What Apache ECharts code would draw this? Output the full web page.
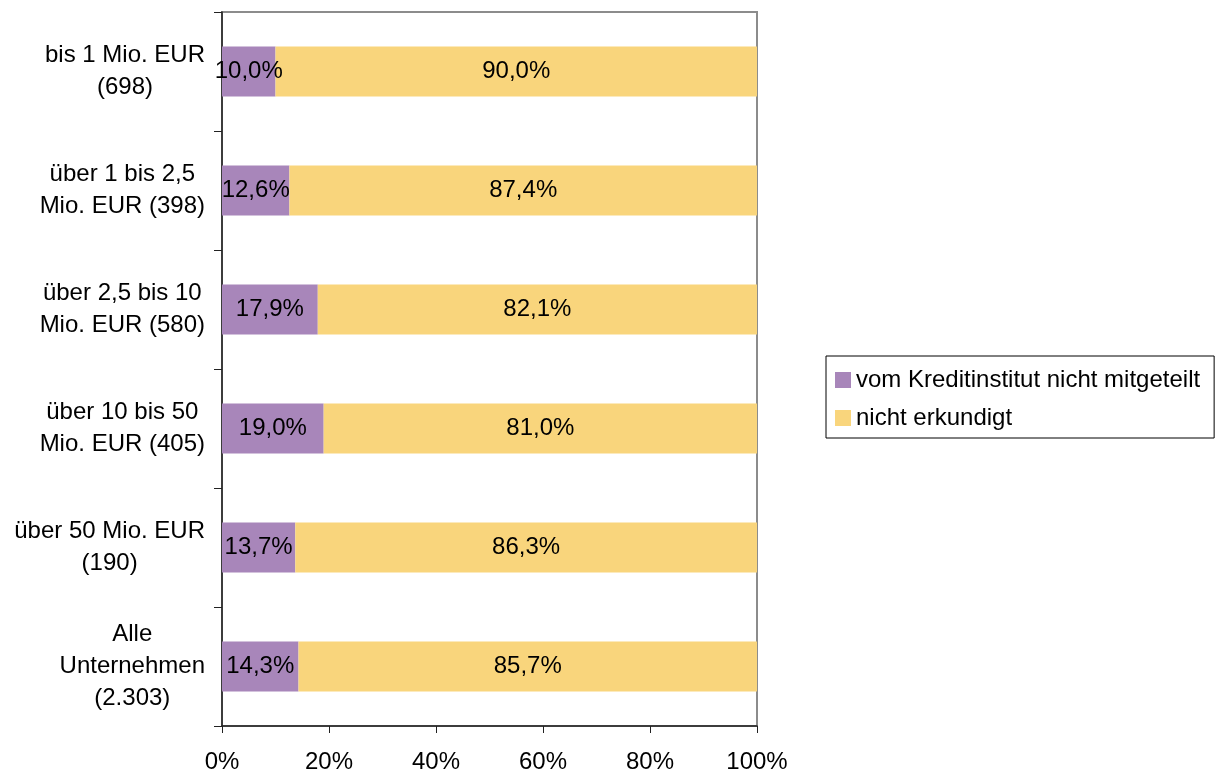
<!DOCTYPE html>
<html>
<head>
<meta charset="utf-8">
<script src="https://cdn.jsdelivr.net/npm/echarts@6/dist/echarts.min.js"></script>
<style>
html,body{margin:0;padding:0;background:#fff;}
#chart{width:1223px;height:776px;}
</style>
</head>
<body>
<div id="chart"></div>
<script>
const categories = [
  'bis 1 Mio. EUR\n(698)',
  'über 1 bis 2,5\nMio. EUR (398)',
  'über 2,5 bis 10\nMio. EUR (580)',
  'über 10 bis 50\nMio. EUR (405)',
  'über 50 Mio. EUR\n(190)',
  'Alle\nUnternehmen\n(2.303)'
];
const seriesNames = ['vom Kreditinstitut nicht mitgeteilt', 'nicht erkundigt'];
const notCommunicated = [10.0, 12.6, 17.9, 19.0, 13.7, 14.3];
const notAsked = [90.0, 87.4, 82.1, 81.0, 86.3, 85.7];
const xTicks = [0, 20, 40, 60, 80, 100];

const FONT = 'Liberation Sans';
const FS = 24;
const fmt = p => p.value.toFixed(1).replace('.', ',') + '%';

const chart = echarts.init(document.getElementById('chart'));
chart.setOption({
  animation: false,
  backgroundColor: '#fff',
  textStyle: { fontFamily: FONT },
  grid: {
    left: 222, right: 466, top: 12, bottom: 50,
    show: true, borderColor: '#8c8c8c', borderWidth: 2, backgroundColor: 'transparent'
  },
  legend: {
    orient: 'vertical',
    left: 826, top: 356,
    padding: [12, 14, 8, 9],
    itemGap: 14,
    itemWidth: 16, itemHeight: 16,
    borderColor: '#000', borderWidth: 1,
    icon: 'rect',
    textStyle: { fontFamily: FONT, fontSize: FS, color: '#000' },
    data: seriesNames
  },
  xAxis: {
    type: 'value',
    min: xTicks[0], max: xTicks[xTicks.length - 1], interval: 20,
    axisLine: { show: true, lineStyle: { color: '#222', width: 1.5 } },
    axisTick: { show: true, length: 7, lineStyle: { color: '#222' } },
    splitLine: { show: false },
    axisLabel: { formatter: '{value}%', fontFamily: FONT, fontSize: FS, color: '#000', margin: 24 }
  },
  yAxis: {
    type: 'category',
    inverse: true,
    data: categories,
    axisLine: { show: true, lineStyle: { color: '#222', width: 1.5 } },
    axisTick: { show: true, length: 8, alignWithLabel: false, lineStyle: { color: '#222' } },
    axisLabel: {
      fontFamily: FONT, fontSize: FS, color: '#000', align: 'right', lineHeight: 32, margin: 17,
      formatter: v => v.split('\n').map(l => '{c|' + l + '}').join('\n'),
      rich: { c: { align: 'center', fontFamily: FONT, fontSize: FS, lineHeight: 32, color: '#000' } }
    }
  },
  series: [
    {
      name: seriesNames[0], type: 'bar', stack: 'a', data: notCommunicated, barWidth: 50,
      itemStyle: { color: '#A886BA' },
      label: { show: true, position: 'inside', formatter: fmt, fontFamily: FONT, fontSize: FS, color: '#000' }
    },
    {
      name: seriesNames[1], type: 'bar', stack: 'a', data: notAsked, barWidth: 50,
      itemStyle: { color: '#F9D57C' },
      label: { show: true, position: 'inside', formatter: fmt, fontFamily: FONT, fontSize: FS, color: '#000' }
    }
  ]
});
</script>
</body>
</html>
